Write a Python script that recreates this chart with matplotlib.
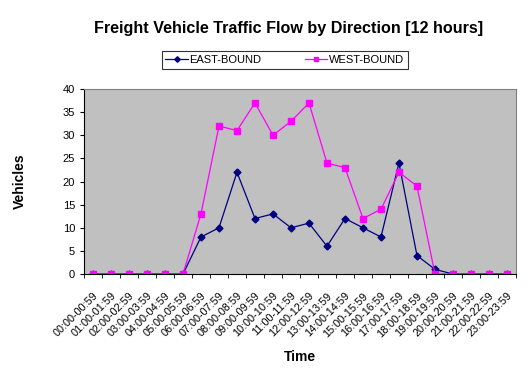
import matplotlib.pyplot as plt
import numpy as np

plt.rcParams['font.family'] = ['Liberation Sans', 'DejaVu Sans']

# horas do dia (categorias)
horas = ['%02d:00-%02d:59' % (h, h) for h in range(24)]

leste = [0, 0, 0, 0, 0, 0, 8, 10, 22, 12, 13, 10, 11, 6, 12, 10, 8, 24, 4, 1, 0, 0, 0, 0]
oeste = [0, 0, 0, 0, 0, 0, 13, 32, 31, 37, 30, 33, 37, 24, 23, 12, 14, 22, 19, 0, 0, 0, 0, 0]

fig = plt.figure(figsize=(5.3, 3.75), dpi=100)
ax = fig.add_axes([0.1585, 0.2693, 0.815, 0.4933])
ax.set_facecolor('#C0C0C0')

x = np.arange(len(horas))
ax.plot(x, leste, color='#000080', marker='D', markersize=3.5, linewidth=0.9, label='EAST-BOUND')
ax.plot(x, oeste, color='#FF00FF', marker='s', markersize=4, linewidth=0.9, label='WEST-BOUND')

ax.set_xlim(-0.5, 23.5)
ax.set_ylim(0, 40)
ax.set_yticks(range(0, 41, 5))
ax.set_xticks(x)
ax.set_xticklabels(horas, rotation=45, ha='right', rotation_mode='anchor', fontsize=7.8)
ax.set_xticks(np.arange(-0.5, 24, 1), minor=True)
ax.tick_params(axis='x', which='major', length=0, pad=12)
ax.tick_params(axis='x', which='minor', length=3, direction='out')
ax.tick_params(axis='y', length=3, direction='out', labelsize=8)

for lado in ['top', 'right']:
    ax.spines[lado].set_color('#808080')
for lado in ['left', 'bottom']:
    ax.spines[lado].set_color('black')

ax.set_ylabel('Vehicles', fontsize=10, fontweight='bold', labelpad=26)
ax.set_xlabel('Time', fontsize=10, fontweight='bold', labelpad=8)

fig.text(0.545, 0.925, 'Freight Vehicle Traffic Flow by Direction [12 hours]',
         ha='center', va='center', fontsize=11.6, fontweight='bold')

leg = fig.legend(loc='center', bbox_to_anchor=(0.537, 0.84), ncol=2, fontsize=8,
                 frameon=True, fancybox=False, edgecolor='black', borderpad=0.35,
                 handlelength=2.0, handletextpad=0.1, columnspacing=4.0,
                 borderaxespad=0, markerscale=0.8)
leg.get_frame().set_linewidth(0.8)

plt.savefig('out.png', dpi=100)
